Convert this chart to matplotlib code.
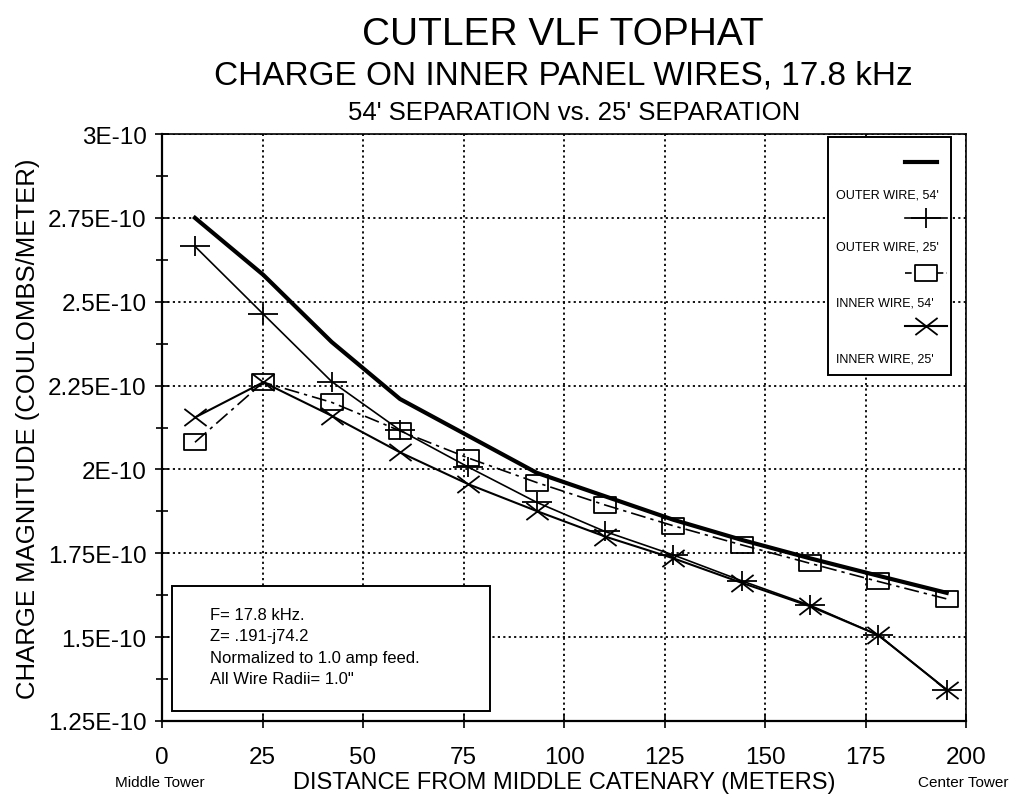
import matplotlib
matplotlib.use("Agg")
import matplotlib.pyplot as plt
from matplotlib.path import Path
from matplotlib.patches import Rectangle

plt.rcParams['font.family'] = ['Liberation Sans', 'DejaVu Sans']

# ---------------- data ----------------
distance_m = [8.2, 25.2, 42.2, 59.2, 76.2, 93.2, 110.2, 127.2, 144.2, 161.2, 178.2, 195.2]
thick_series = [2.75, 2.58, 2.38, 2.21, 2.10, 1.99, 1.92, 1.85, 1.79, 1.735, 1.683, 1.632]
plus_series = [2.665, 2.463, 2.262, 2.117, 2.007, 1.902, 1.815, 1.745, 1.668, 1.595, 1.506, 1.343]
square_series = [2.081, 2.26, 2.20, 2.115, 2.034, 1.961, 1.894, 1.832, 1.775, 1.72, 1.666, 1.614]
x_series = [2.155, 2.26, 2.16, 2.051, 1.956, 1.876, 1.80, 1.735, 1.662, 1.592, 1.506, 1.343]
scale = 1e-10

legend_labels = ["OUTER WIRE, 54'", "OUTER WIRE, 25'", "INNER WIRE, 54'", "INNER WIRE, 25'"]
xticks = [0, 25, 50, 75, 100, 125, 150, 175, 200]
yticks = [1.25, 1.5, 1.75, 2.0, 2.25, 2.5, 2.75, 3.0]
ytick_labels = ["1.25E-10", "1.5E-10", "1.75E-10", "2E-10", "2.25E-10", "2.5E-10", "2.75E-10", "3E-10"]
info_lines = ["F= 17.8 kHz.", "Z= .191-j74.2", "Normalized to 1.0 amp feed.", "All Wire Radii= 1.0\""]

# ---------------- markers ----------------
plus_marker = Path([(-1, 0), (1, 0), (0, -0.7), (0, 0.7)],
                   [Path.MOVETO, Path.LINETO, Path.MOVETO, Path.LINETO])
x_marker = Path([(-1, -0.77), (1, 0.77), (-1, 0.77), (1, -0.77)],
                [Path.MOVETO, Path.LINETO, Path.MOVETO, Path.LINETO])
sq_marker = Path([(-1, -0.72), (1, -0.72), (1, 0.72), (-1, 0.72), (-1, -0.72)],
                 [Path.MOVETO, Path.LINETO, Path.LINETO, Path.LINETO, Path.CLOSEPOLY])

W, H = 1011, 803
fig = plt.figure(figsize=(W / 100, H / 100), dpi=100)
L, R, T, B = 162, 966, 135, 722
ax = fig.add_axes([L / W, 1 - B / H, (R - L) / W, (B - T) / H])

ys = lambda v: [a * scale for a in v]

ax.plot(distance_m, ys(square_series), color='black', lw=1.2, dashes=(9, 3, 2, 3),
        marker=sq_marker, ms=16, mfc='none', mec='black', mew=1.3, zorder=3)
ax.plot(distance_m, ys(x_series), color='black', lw=1.5,
        marker=x_marker, ms=16, mec='black', mew=1.3, zorder=3)
ax.plot(distance_m, ys(plus_series), color='black', lw=1.2,
        marker=plus_marker, ms=21.5, mec='black', mew=1.3, zorder=3)
ax.plot(distance_m, ys(thick_series), color='black', lw=3.0, zorder=4)

ax.set_xlim(0, 200)
ax.set_ylim(1.25 * scale, 3.0 * scale)
ax.set_xticks(xticks)
ax.set_xticklabels([str(t) for t in xticks], fontsize=17.5)
ax.set_yticks([t * scale for t in yticks])
ax.set_yticklabels(ytick_labels, fontsize=17.5)
ax.set_yticks([(t + 0.125) * scale for t in yticks[:-1]], minor=True)

ax.grid(True, which='major', color='black', linestyle=(0, (1.2, 1.8)), lw=1.3)
ax.tick_params(axis='both', which='major', direction='inout', length=10, width=1.2, colors='black')
ax.tick_params(axis='y', which='major', pad=6)
ax.tick_params(axis='x', which='major', pad=13)
ax.tick_params(axis='y', which='minor', direction='inout', length=8, width=1.2)
for s in ['left', 'bottom']:
    ax.spines[s].set_linewidth(1.6)
for s in ['top', 'right']:
    ax.spines[s].set_linewidth(1.2)

ax.set_ylabel("CHARGE MAGNITUDE (COULOMBS/METER)", fontsize=18.5, labelpad=6)
ax.set_xlabel("DISTANCE FROM MIDDLE CATENARY (METERS)", fontsize=17, labelpad=2)

# ---------------- titles ----------------
fig.text(563 / W, 1 - 35 / H, "CUTLER VLF TOPHAT", fontsize=28, ha='center', va='center')
fig.text(563 / W, 1 - 76 / H, "CHARGE ON INNER PANEL WIRES, 17.8 kHz", fontsize=24, ha='center', va='center')
fig.text(574 / W, 1 - 113 / H, "54' SEPARATION vs. 25' SEPARATION", fontsize=18.5, ha='center', va='center')
fig.text(160 / W, 1 - 783 / H, "Middle Tower", fontsize=11, ha='center', va='center')
fig.text(1008 / W, 1 - 783 / H, "Center Tower", fontsize=11, ha='right', va='center')

# ---------------- legend (drawn manually) ----------------
fx = lambda px: (px - L) / (R - L)
fy = lambda py: (B - py) / (B - T)
ax.add_patch(Rectangle((fx(828), fy(376)), fx(951) - fx(828), fy(138) - fy(376),
                       transform=ax.transAxes, facecolor='white', edgecolor='black',
                       lw=1.4, zorder=6))
tr = ax.transAxes
ax.plot([fx(905), fx(937)], [fy(163)] * 2, transform=tr, color='black', lw=3, zorder=7)
ax.plot([fx(905), fx(947)], [fy(219)] * 2, transform=tr, color='black', lw=1.2, zorder=7)
ax.plot([fx(926)], [fy(219)], transform=tr, marker=plus_marker, ms=21.5, mec='black', mew=1.3, zorder=7)
ax.plot([fx(905), fx(947)], [fy(274)] * 2, transform=tr, color='black', lw=1.2, dashes=(4, 2, 1.5, 2), zorder=7)
ax.plot([fx(926)], [fy(274)], transform=tr, marker=sq_marker, ms=16, mfc='white', mec='black', mew=1.3, zorder=7)
ax.plot([fx(905), fx(947)], [fy(327)] * 2, transform=tr, color='black', lw=1.5, zorder=7)
ax.plot([fx(926)], [fy(327)], transform=tr, marker=x_marker, ms=16, mec='black', mew=1.3, zorder=7)
for lab, py in zip(legend_labels, [195, 247, 303, 359]):
    ax.text(fx(836), fy(py), lab, transform=tr, fontsize=9, ha='left', va='center', zorder=8)

# ---------------- info box ----------------
ax.add_patch(Rectangle((fx(172), fy(712)), fx(490) - fx(172), fy(587) - fy(712),
                       transform=ax.transAxes, facecolor='white', edgecolor='black',
                       lw=1.4, zorder=6))
for line, py in zip(info_lines, [615, 637, 658, 679]):
    ax.text(fx(210), fy(py), line, transform=tr, fontsize=12, ha='left', va='center', zorder=8)

fig.savefig("out.png", dpi=100)
